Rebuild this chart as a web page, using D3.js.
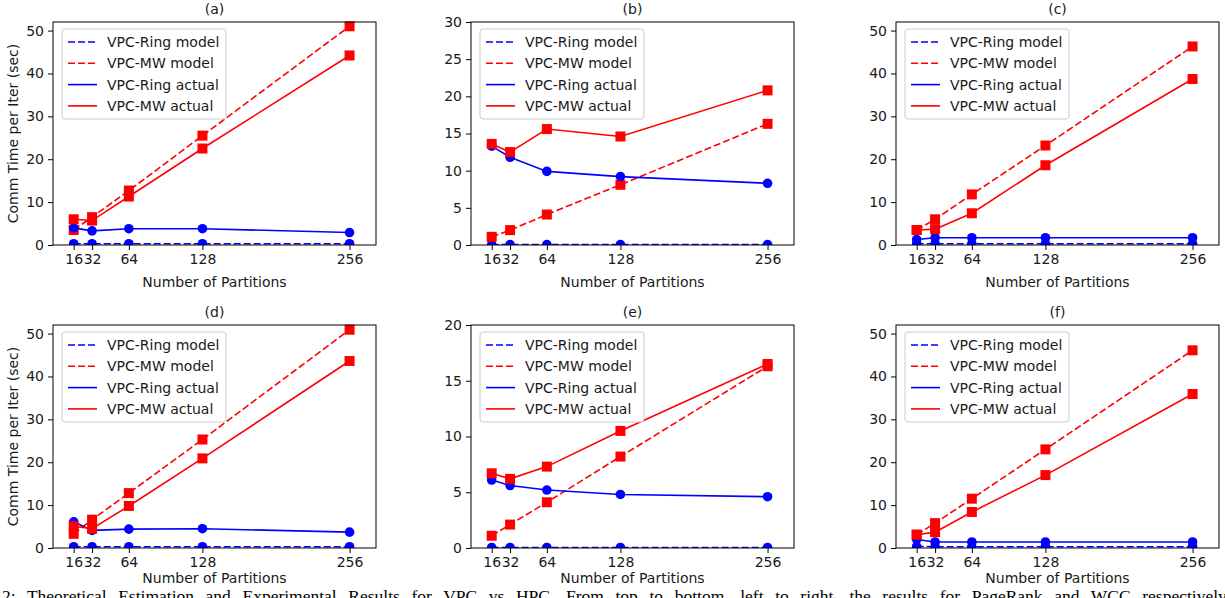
<!DOCTYPE html>
<html lang="en">
<head>
<meta charset="UTF-8">
<title>VPC-Ring vs VPC-MW comm time</title>
<script src="https://cdnjs.cloudflare.com/ajax/libs/d3/7.8.5/d3.min.js"></script>
<style>
  body { margin: 0; background: #fff; }
  svg { display: block; font-family: "DejaVu Sans", sans-serif; }
</style>
</head>
<body>
<svg id="chart" width="1225" height="598"></svg>
<script>
// x positions shared by all panels
const partitions = [16, 32, 64, 128, 256];
const panelTitles = ["(a)", "(b)", "(c)", "(d)", "(e)", "(f)"];
const legendLabels = ["VPC-Ring model", "VPC-MW model", "VPC-Ring actual", "VPC-MW actual"];

// one row per panel (a..f)
const ringModel = [
  [0.3, 0.3, 0.3, 0.3, 0.3],
  [0.05, 0.05, 0.05, 0.05, 0.05],
  [0.3, 0.3, 0.3, 0.3, 0.3],
  [0.3, 0.3, 0.3, 0.3, 0.3],
  [0.05, 0.05, 0.05, 0.05, 0.05],
  [0.4, 0.3, 0.3, 0.3, 0.3]
];
const mwModel = [
  [3.5, 6.5, 12.7, 25.5, 51.0],
  [1.1, 2.0, 4.1, 8.1, 16.3],
  [3.5, 6.0, 11.8, 23.2, 46.3],
  [3.3, 6.6, 12.8, 25.3, 50.9],
  [1.1, 2.1, 4.1, 8.2, 16.3],
  [3.1, 5.8, 11.5, 23.0, 46.1]
];
const ringActual = [
  [4.0, 3.3, 3.8, 3.8, 2.9],
  [13.3, 11.8, 9.9, 9.2, 8.3],
  [1.3, 1.7, 1.7, 1.7, 1.7],
  [6.1, 4.1, 4.4, 4.5, 3.7],
  [6.1, 5.6, 5.2, 4.8, 4.6],
  [2.0, 1.4, 1.4, 1.4, 1.4]
];
const mwActual = [
  [6.0, 5.7, 11.3, 22.5, 44.2],
  [13.6, 12.5, 15.6, 14.6, 20.8],
  [3.5, 3.7, 7.4, 18.6, 38.7],
  [5.1, 4.5, 9.8, 20.9, 43.6],
  [6.7, 6.2, 7.3, 10.5, 16.5],
  [3.1, 3.7, 8.4, 17.0, 35.9]
];
const yMax = [52, 30, 52, 52, 20, 52];
const yTickValues = [
  [0, 10, 20, 30, 40, 50],
  [0, 5, 10, 15, 20, 25, 30],
  [0, 10, 20, 30, 40, 50],
  [0, 10, 20, 30, 40, 50],
  [0, 5, 10, 15, 20],
  [0, 10, 20, 30, 40, 50]
];

const BLUE = "#0000ff", RED = "#ff0000", TXT = "#1a1a1a";
const colLeft = [53, 471, 896];
const rowTop = [22, 325];
const xLabelGap = [42, 35];
const pw = 323, ph = 223;

const svg = d3.select("#chart");

const series = [
  { data: ringModel, color: BLUE, dash: "7,3", marker: "circle" },
  { data: mwModel, color: RED, dash: "7,3", marker: "square" },
  { data: ringActual, color: BLUE, dash: null, marker: "circle" },
  { data: mwActual, color: RED, dash: null, marker: "square" }
];

panelTitles.forEach((title, i) => {
  const col = i % 3, row = Math.floor(i / 3);
  const g = svg.append("g").attr("transform", `translate(${colLeft[col]},${rowTop[row]})`);

  const x = d3.scaleLinear().domain([-2, 279]).range([0, pw]);
  const y = d3.scaleLinear().domain([0, yMax[i]]).range([ph, 0]);

  // axes
  const xAxis = g.append("g").attr("transform", `translate(0,${ph})`)
    .call(d3.axisBottom(x).tickValues(partitions).tickSize(5).tickPadding(4));
  const yAxis = g.append("g")
    .call(d3.axisLeft(y).tickValues(yTickValues[i]).tickSize(5).tickPadding(4));
  [xAxis, yAxis].forEach(a => {
    a.select(".domain").remove();
    a.selectAll("line").attr("stroke", "#000").attr("stroke-width", 1);
    a.selectAll("text").attr("font-size", 14).attr("fill", TXT)
      .attr("font-family", "DejaVu Sans, sans-serif");
  });

  // plot lines and markers
  const clip = "clip" + i;
  g.append("clipPath").attr("id", clip).append("rect")
    .attr("x", -8).attr("y", -8).attr("width", pw + 16).attr("height", ph + 8);
  const plot = g.append("g").attr("clip-path", `url(#${clip})`);

  const line = d3.line().x((d, k) => x(partitions[k])).y(d => y(d));
  series.forEach(s => {
    const vals = s.data[i];
    plot.append("path").datum(vals)
      .attr("d", line).attr("fill", "none")
      .attr("stroke", s.color).attr("stroke-width", 1.6)
      .attr("stroke-dasharray", s.dash);
    if (s.marker === "circle") {
      plot.selectAll(null).data(vals).join("circle")
        .attr("cx", (d, k) => x(partitions[k])).attr("cy", d => y(d))
        .attr("r", 4.8).attr("fill", s.color);
    } else {
      plot.selectAll(null).data(vals).join("rect")
        .attr("x", (d, k) => x(partitions[k]) - 5).attr("y", d => y(d) - 5)
        .attr("width", 10).attr("height", 10).attr("fill", s.color);
    }
  });

  // frame
  g.append("rect").attr("width", pw).attr("height", ph)
    .attr("fill", "none").attr("stroke", "#000").attr("stroke-width", 1);

  // legend
  const lg = g.append("g").attr("transform", "translate(9,7)");
  lg.append("rect").attr("width", 164).attr("height", 90).attr("rx", 3)
    .attr("fill", "#fff").attr("fill-opacity", 0.8)
    .attr("stroke", "#cccccc").attr("stroke-width", 1);
  legendLabels.forEach((lab, k) => {
    const yy = 13 + k * 21.3;
    lg.append("line").attr("x1", 6).attr("x2", 35).attr("y1", yy).attr("y2", yy)
      .attr("stroke", series[k].color).attr("stroke-width", 1.6)
      .attr("stroke-dasharray", series[k].dash);
    lg.append("text").attr("x", 45).attr("y", yy + 5)
      .attr("font-size", 14).attr("fill", TXT).text(lab);
  });

  // title
  g.append("text").attr("x", pw / 2).attr("y", -8)
    .attr("text-anchor", "middle").attr("font-size", 14).attr("fill", TXT).text(title);

  // x label
  g.append("text").attr("x", pw / 2).attr("y", ph + xLabelGap[row])
    .attr("text-anchor", "middle").attr("font-size", 14).attr("fill", TXT)
    .text("Number of Partitions");

  // y label only on left column
  if (col === 0) {
    g.append("text")
      .attr("transform", `translate(${18 - colLeft[col]},${ph / 2}) rotate(-90)`)
      .attr("text-anchor", "middle").attr("font-size", 14).attr("fill", TXT)
      .text("Comm Time per Iter (sec)");
  }
});

// caption, justified by widening word gaps, clipped by the bottom edge
const caption = svg.append("text")
  .attr("x", 2).attr("y", 602)
  .attr("font-family", "Liberation Serif, serif")
  .attr("font-size", 17.5).attr("fill", "#000")
  .text("2:  Theoretical Estimation and Experimental Results for VPC vs HPC. From top to bottom, left to right, the results for PageRank and WCC respectively");
const natural = caption.node().getComputedTextLength();
const gaps = caption.text().split(" ").length - 1;
caption.attr("word-spacing", Math.max(0, (1232 - natural) / gaps));
</script>
</body>
</html>
